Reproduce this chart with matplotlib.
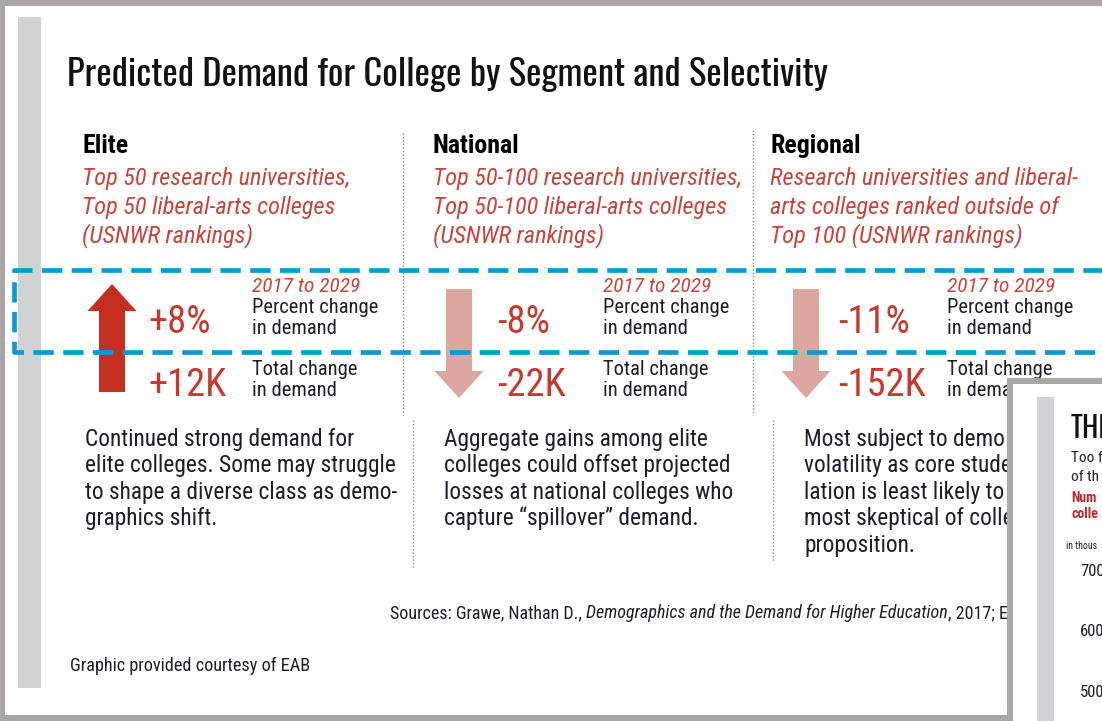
import matplotlib
matplotlib.use('Agg')
import matplotlib.pyplot as plt
from matplotlib import font_manager
from matplotlib.patches import Rectangle, FancyArrow, Polygon

# ---- data ----
title = 'Predicted Demand for College by Segment and Selectivity'
segments = ['Elite', 'National', 'Regional']
descriptions = [
    ['Top 50 research universities,', 'Top 50 liberal-arts colleges', '(USNWR rankings)'],
    ['Top 50-100 research universities,', 'Top 50-100 liberal-arts colleges', '(USNWR rankings)'],
    ['Research universities and liberal-', 'arts colleges ranked outside of', 'Top 100 (USNWR rankings)'],
]
period = '2017 to 2029'
pct_change = [8, -8, -11]          # percent change in demand
total_change_k = [12, -22, -152]   # total change in demand, thousands
notes = [
    ['Continued strong demand for', 'elite colleges. Some may struggle',
     'to shape a diverse class as demo-', 'graphics shift.'],
    ['Aggregate gains among elite', 'colleges could offset projected',
     'losses at national colleges who', 'capture \u201cspillover\u201d demand.'],
    ['Most subject to demo', 'volatility as core stude',
     'lation is least likely to', 'most skeptical of colle',
     'proposition.'],
]
source_parts = ['Sources: Grawe, Nathan D., ',
                'Demographics and the Demand for Higher Education',
                ', 2017; EA']
credit = 'Graphic provided courtesy of EAB'
inset_lines = ['Too f', 'of th']
inset_red = ['Num', 'colle']
inset_ticks = [700, 600, 500]

# ---- fonts ----
have = {f.name for f in font_manager.fontManager.ttflist}


def pick(*names):
    for n in names:
        if n in have:
            return n
    return 'DejaVu Sans'


TITLE_FONT = pick('Oswald', 'Liberation Sans Narrow', 'Roboto Condensed', 'DejaVu Sans')
FONT = pick('Roboto Condensed', 'Roboto', 'DejaVu Sans')
NARROW = pick('Liberation Sans Narrow', 'Roboto Condensed', 'Roboto')

RED = '#c9382c'
RED_SOFT = '#c8453b'
DARK = '#1d1d2b'
FRAME = '#aaa6a6'
BAR = '#d1d2d4'
BLUE = '#0b9bd0'

W, H = 1102, 721
fig = plt.figure(figsize=(W / 100, H / 100), dpi=100)
ax = fig.add_axes([0, 0, 1, 1])
ax.set_xlim(0, W)
ax.set_ylim(H, 0)
ax.axis('off')
r = fig.canvas.get_renderer()

# region of the main panel not hidden by the inset panel
main_clip = Polygon([(0, 0), (W, 0), (W, 378), (1007, 378), (1007, H), (0, H)],
                    closed=True, transform=ax.transData, fc='none', ec='none')


def fit(t, width):
    w = t.get_window_extent(renderer=r).width
    t.set_fontsize(t.get_fontsize() * width / w)
    return t.get_fontsize()


# frame and background
ax.add_patch(Rectangle((0, 0), W, H, fc=FRAME, ec='none', zorder=0))
ax.add_patch(Rectangle((5, 6), W, 709, fc='white', ec='none', zorder=0.5))
ax.add_patch(Rectangle((18, 17), 23, 671, fc=BAR, ec='none', zorder=1))

# title
t = ax.text(67, 86, title, fontsize=28, family=TITLE_FONT, color='#111111',
            va='baseline', zorder=3)
fit(t, 759)

col_x = [82, 433, 770]
arrow_x = [112, 459, 806]
num_x = [148, 497, 838]
lab_x = [252, 603, 947]
note_x = [85, 444, 804]

# headers and descriptions
hdr = ax.text(col_x[1], 153, segments[1], fontsize=15, family=FONT,
              weight='bold', color='black', va='baseline', zorder=3)
hsize = fit(hdr, 87)
hdr.remove()
probe = ax.text(0, 0, descriptions[0][0], fontsize=14, family=FONT, style='italic')
dsize = fit(probe, 270)
probe.remove()
for i, seg in enumerate(segments):
    ax.text(col_x[i], 153, seg, fontsize=hsize, family=FONT, weight='bold',
            color='black', va='baseline', zorder=3)
    for j, line in enumerate(descriptions[i]):
        ax.text(col_x[i], 185 + j * 28.8, line, fontsize=dsize, family=FONT,
                style='italic', color=RED_SOFT, va='baseline', zorder=3)

# separators
for x, y0, y1 in [(403, 133, 415), (753, 130, 415), (413, 420, 568), (773, 420, 562)]:
    ax.plot([x, x], [y0, y1], color='#8a8a8a', lw=1, ls=(0, (1, 1.5)), zorder=2)

# big numbers and labels
probe = ax.text(0, 0, '+12K', fontsize=20, family=FONT)
nsize = fit(probe, 78)
probe.remove()
probe = ax.text(0, 0, period, fontsize=12, family=FONT, style='italic')
psize = fit(probe, 108)
probe.remove()
probe = ax.text(0, 0, 'Percent change', fontsize=12, family=FONT)
lsize = fit(probe, 125)
probe.remove()

for i in range(3):
    up = pct_change[i] > 0
    color = '#c4301f' if up else '#dca79f'
    if up:
        y_tail, y_tip = 392, 284
    else:
        y_tail, y_tip = 289, 398
    ax.add_patch(FancyArrow(arrow_x[i], y_tail, 0, y_tip - y_tail, width=26,
                            head_width=49, head_length=27,
                            length_includes_head=True, fc=color, ec='none',
                            zorder=2))
    ax.text(num_x[i], 333, f'{pct_change[i]:+d}%', fontsize=nsize, family=FONT,
            color=RED, va='baseline', zorder=3)
    ax.text(num_x[i], 396, f'{total_change_k[i]:+d}K', fontsize=nsize, family=FONT,
            color=RED, va='baseline', zorder=3)
    ax.text(lab_x[i], 292, period, fontsize=psize, family=FONT, style='italic',
            color=RED_SOFT, va='baseline', zorder=3)
    for y, s in zip([313, 334, 375, 396],
                    ['Percent change', 'in demand', 'Total change', 'in demand']):
        t = ax.text(lab_x[i], y, s, fontsize=lsize, family=FONT, color=DARK,
                    va='baseline', zorder=3)
        t.set_clip_path(main_clip)

# blue dashed highlight box
ax.plot([1120, 14, 14, 1120], [270, 270, 352, 352], color=BLUE, lw=3.4,
        ls=(0, (4.3, 2.0)), solid_joinstyle='miter', zorder=4)

# notes
probe = ax.text(0, 0, notes[0][0], fontsize=15, family=FONT)
bsize = fit(probe, 270)
probe.remove()
for i in range(3):
    for j, line in enumerate(notes[i]):
        t = ax.text(note_x[i], 446 + j * 26.4, line, fontsize=bsize, family=FONT,
                    color=DARK, va='baseline', zorder=3)
        t.set_clip_path(main_clip)

# sources line (mixed italic)
x = 390
for k, part in enumerate(source_parts):
    t = ax.text(x, 618, part, fontsize=10, family=FONT,
                style='italic' if k == 1 else 'normal', color=DARK,
                va='baseline', zorder=3)
    t.set_clip_path(main_clip)
    if k == 0:
        ssize = fit(t, 196)
    else:
        t.set_fontsize(ssize)
    x += t.get_window_extent(renderer=r).width

t = ax.text(70, 671, credit, fontsize=10, family=FONT, color=DARK,
            va='baseline', zorder=3)
fit(t, 240)

# overlapping second panel at the lower right
ax.add_patch(Rectangle((1007, 378), 200, 400, fc=FRAME, ec='none', zorder=10))
ax.add_patch(Rectangle((1013, 384), 200, 400, fc='white', ec='none', zorder=10.5))
ax.add_patch(Rectangle((1037, 397), 17, 400, fc=BAR, ec='none', zorder=11))
ax.text(1071, 438, 'THE', fontsize=21, family=TITLE_FONT,
        color='#111111', va='baseline', zorder=12, clip_on=True)
for j, line in enumerate(inset_lines):
    ax.text(1071, 462 + j * 19, line, fontsize=11, family=FONT, color=DARK,
            va='baseline', zorder=12, clip_on=True)
for j, line in enumerate(inset_red):
    ax.text(1071, 502 + j * 15.5, line, fontsize=10, family=FONT, weight='bold',
            color='#c0282d', va='baseline', zorder=12, clip_on=True)
ax.text(1066, 549, 'in thous', fontsize=7, family=NARROW, color=DARK,
        va='baseline', zorder=12, clip_on=True)
for j, v in enumerate(inset_ticks):
    ax.text(1080, 576 + j * 60.5, str(v), fontsize=12, family=FONT, color=DARK,
            va='baseline', zorder=12, clip_on=True)

fig.savefig('out.png', dpi=100)
